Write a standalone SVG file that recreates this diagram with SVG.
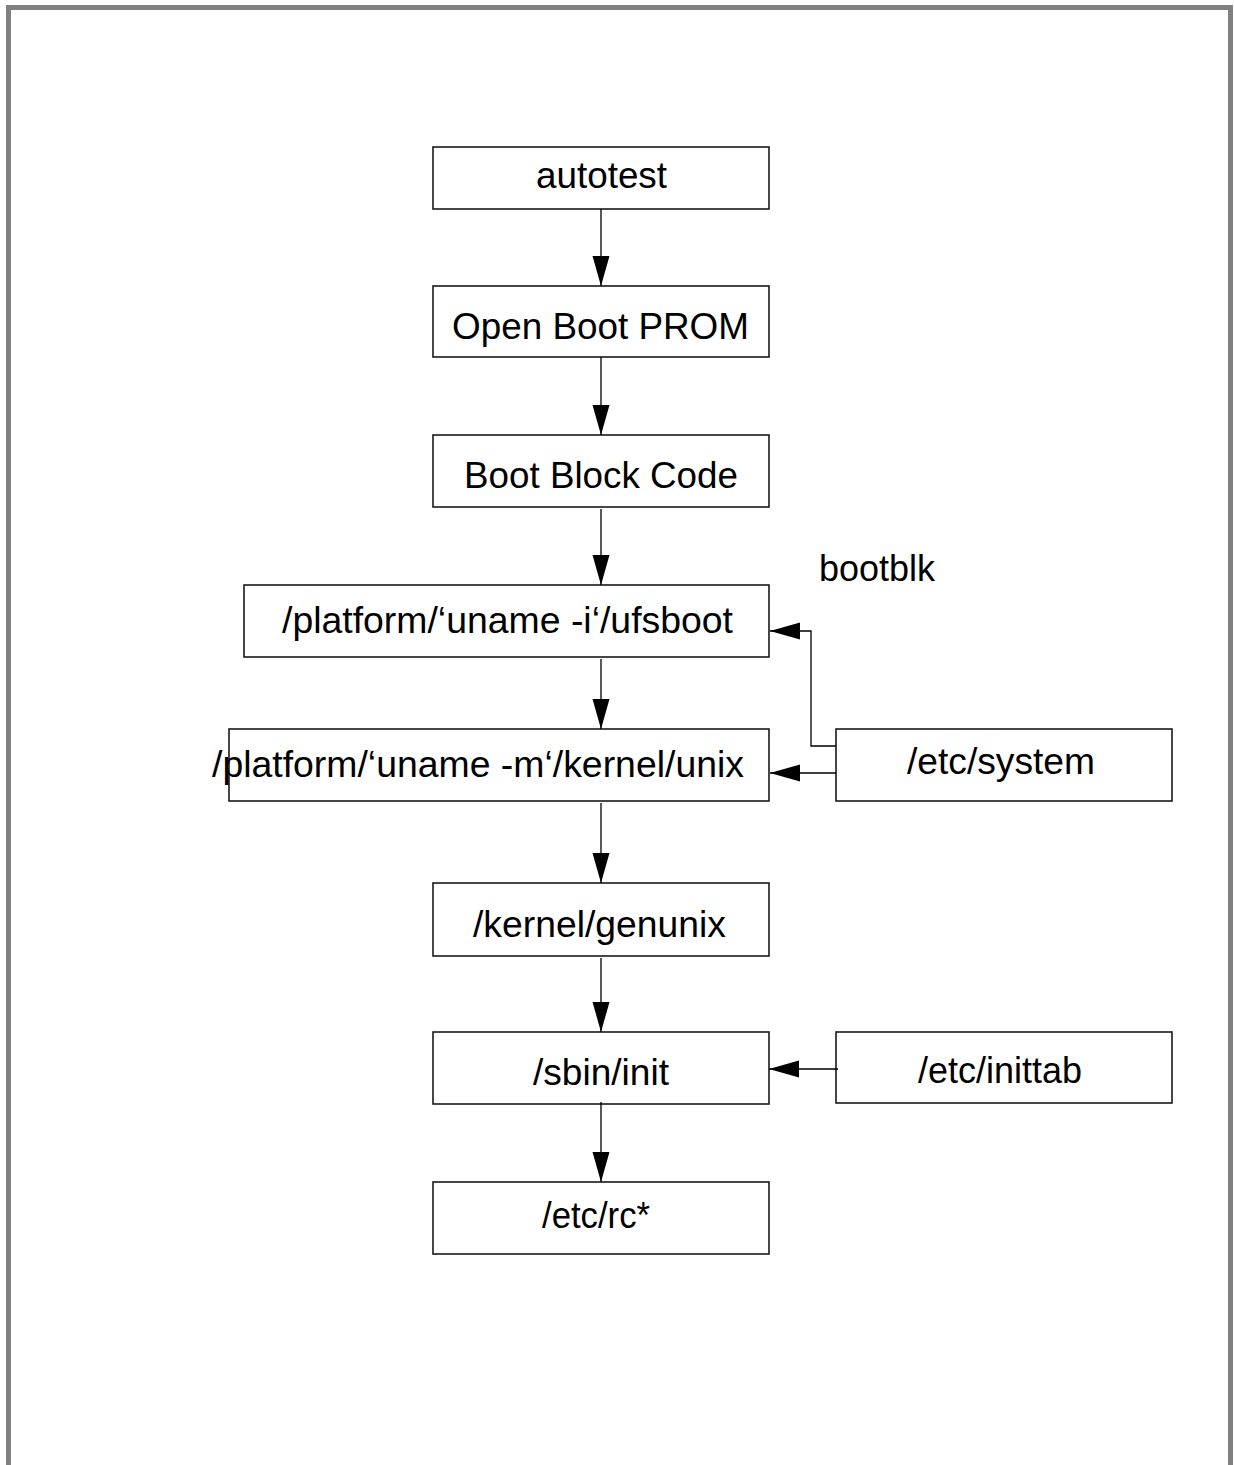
<svg xmlns="http://www.w3.org/2000/svg" width="1234" height="1465" viewBox="0 0 1234 1465">
  <style>
    .box { fill: #ffffff; stroke: #1a1a1a; stroke-width: 1.6; }
    .lbl { font-family: "Liberation Sans", Arial, Helvetica, sans-serif; font-size: 36.5px; fill: #000000; }
    .edge { fill: none; stroke: #000000; stroke-width: 1.3; }
  </style>
  <defs>
    <marker id="arrow" markerUnits="userSpaceOnUse" markerWidth="30" markerHeight="18" refX="30" refY="9" orient="auto">
      <path d="M0,0.5 L30,9 L0,17.5 Z" fill="#000000"/>
    </marker>
  </defs>

  <!-- page frame -->
  <rect x="8.5" y="7.5" width="1222" height="1500" fill="#ffffff" stroke="#808080" stroke-width="5"/>

  <!-- boot sequence nodes -->
  <g id="autotest">
    <rect class="box" x="433" y="147" width="336" height="62"/>
    <text class="lbl" x="536" y="188" textLength="131" lengthAdjust="spacingAndGlyphs">autotest</text>
  </g>
  <g id="openbootprom">
    <rect class="box" x="433" y="286" width="336" height="71"/>
    <text class="lbl" x="452" y="339" textLength="297" lengthAdjust="spacingAndGlyphs">Open Boot PROM</text>
  </g>
  <g id="bootblockcode">
    <rect class="box" x="433" y="435" width="336" height="72"/>
    <text class="lbl" x="464" y="488" textLength="274" lengthAdjust="spacingAndGlyphs">Boot Block Code</text>
  </g>
  <g id="bootblk">
    <text class="lbl" x="819" y="581" textLength="116" lengthAdjust="spacingAndGlyphs">bootblk</text>
  </g>
  <g id="ufsboot">
    <rect class="box" x="244" y="585" width="525" height="72"/>
    <text class="lbl" x="282" y="633" textLength="451" lengthAdjust="spacingAndGlyphs">/platform/‘uname -i‘/ufsboot</text>
  </g>
  <g id="kernelunix">
    <rect class="box" x="229" y="729" width="540" height="72"/>
    <text class="lbl" x="212" y="777" textLength="532" lengthAdjust="spacingAndGlyphs">/platform/‘uname -m‘/kernel/unix</text>
  </g>
  <g id="etcsystem">
    <rect class="box" x="836" y="729" width="336" height="72"/>
    <text class="lbl" x="907" y="774" textLength="188" lengthAdjust="spacingAndGlyphs">/etc/system</text>
  </g>
  <g id="genunix">
    <rect class="box" x="433" y="883" width="336" height="73"/>
    <text class="lbl" x="473" y="937" textLength="253" lengthAdjust="spacingAndGlyphs">/kernel/genunix</text>
  </g>
  <g id="sbininit">
    <rect class="box" x="433" y="1032" width="336" height="72"/>
    <text class="lbl" x="533" y="1085" textLength="136" lengthAdjust="spacingAndGlyphs">/sbin/init</text>
  </g>
  <g id="etcinittab">
    <rect class="box" x="836" y="1032" width="336" height="71"/>
    <text class="lbl" x="918" y="1083" textLength="164" lengthAdjust="spacingAndGlyphs">/etc/inittab</text>
  </g>
  <g id="etcrc">
    <rect class="box" x="433" y="1182" width="336" height="72"/>
    <text class="lbl" x="542" y="1228" textLength="108" lengthAdjust="spacingAndGlyphs">/etc/rc*</text>
  </g>

  <!-- connectors -->
  <g id="connectors">
    <path class="edge" d="M601,209 V286" marker-end="url(#arrow)"/>
    <path class="edge" d="M601,357 V435" marker-end="url(#arrow)"/>
    <path class="edge" d="M601,509 V585" marker-end="url(#arrow)"/>
    <path class="edge" d="M601,659 V729" marker-end="url(#arrow)"/>
    <path class="edge" d="M601,803 V883" marker-end="url(#arrow)"/>
    <path class="edge" d="M601,958 V1032" marker-end="url(#arrow)"/>
    <path class="edge" d="M601,1102 V1182" marker-end="url(#arrow)"/>
    <path class="edge" d="M836,746 H811 V631 H770" marker-end="url(#arrow)"/>
    <path class="edge" d="M836,773 H770" marker-end="url(#arrow)"/>
    <path class="edge" d="M838,1069 H769" marker-end="url(#arrow)"/>
  </g>
</svg>
